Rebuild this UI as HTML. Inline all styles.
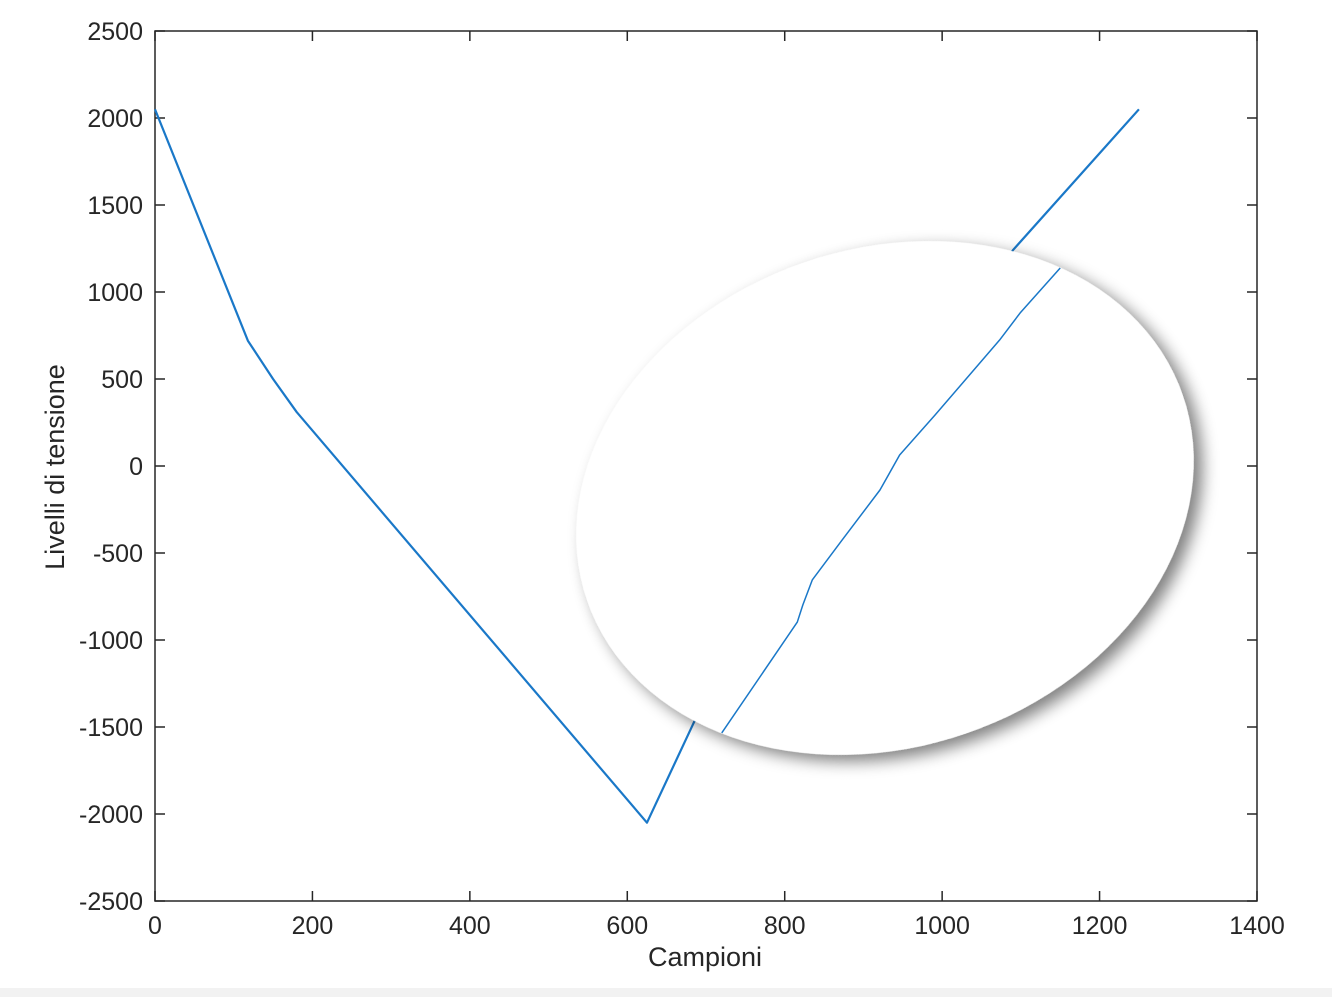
<!DOCTYPE html>
<html><head><meta charset="utf-8"><style>
html,body{margin:0;padding:0;background:#fff;}
svg{display:block;font-family:"Liberation Sans",Arial,sans-serif;}
</style></head><body>
<svg id="chart" width="1332" height="997" viewBox="0 0 1332 997" xmlns="http://www.w3.org/2000/svg">
<defs>
<filter id="sh" x="-20%" y="-20%" width="140%" height="140%">
<feGaussianBlur in="SourceAlpha" stdDeviation="8"/>
<feOffset dx="6" dy="9" result="b"/>
<feComponentTransfer><feFuncA type="linear" slope="0.5"/></feComponentTransfer>
<feMerge><feMergeNode/><feMergeNode in="SourceGraphic"/></feMerge>
</filter>
</defs>
<rect x="0" y="988" width="1332" height="9" fill="#f2f2f2"/>
<g id="plot"></g>
</svg>
<script>
const xTicks=[0,200,400,600,800,1000,1200,1400];
const yTicks=[2500,2000,1500,1000,500,0,-500,-1000,-1500,-2000,-2500];
const seriesX=[0,118,150,180,625,686,1090,1250];
const seriesY=[2050,720,500,310,-2050,-1460,1241,2050];
const zoomX=[720,816,823,835,873,921,946,991,1073,1099,1150];
const zoomY=[-1534,-897,-799,-655,-425,-138,63,293,724,879,1138];

const L=155,R=1257,T=31,B=901;
const sx=v=>L+(v-0)/(1400-0)*(R-L);
const sy=v=>B-(v+2500)/5000*(B-T);
const NS="http://www.w3.org/2000/svg";
const g=document.getElementById('plot');
function mk(t,a,p){const e=document.createElementNS(NS,t);for(const k in a)e.setAttribute(k,a[k]);(p||g).appendChild(e);return e;}

const frame=mk('rect',{x:L,y:T,width:R-L,height:B-T,fill:'#fff',stroke:'#262626','stroke-width':1.5});



xTicks.forEach(v=>{
  const x=sx(v);
  mk('line',{x1:x,x2:x,y1:B,y2:B-10,stroke:'#262626','stroke-width':1.5});
  mk('line',{x1:x,x2:x,y1:T,y2:T+10,stroke:'#262626','stroke-width':1.5});
  const t=mk('text',{x:x,y:B+33,'text-anchor':'middle','font-size':25,fill:'#262626'});
  t.textContent=v;
  
  
});
yTicks.forEach(v=>{
  const y=sy(v);
  mk('line',{x1:L,x2:L+10,y1:y,y2:y,stroke:'#262626','stroke-width':1.5});
  mk('line',{x1:R,x2:R-10,y1:y,y2:y,stroke:'#262626','stroke-width':1.5});
  const t=mk('text',{x:L-12,y:y+9,'text-anchor':'end','font-size':25,fill:'#262626'});
  t.textContent=v;
  
  
});

const line=mk('polyline',{points:seriesX.map((x,i)=>sx(x)+','+sy(seriesY[i])).join(' '),fill:'none',stroke:'#1a78c8','stroke-width':2.2,'stroke-linejoin':'round'});



const mag=mk('ellipse',{cx:885,cy:498,rx:315,ry:249,transform:'rotate(-19 885 498)',fill:'#fff',filter:'url(#sh)'});


const zl=mk('polyline',{points:zoomX.map((x,i)=>sx(x)+','+sy(zoomY[i])).join(' '),fill:'none',stroke:'#1a78c8','stroke-width':1.5,'stroke-linejoin':'round'});



const xl=mk('text',{x:705,y:966,'text-anchor':'middle','font-size':27,fill:'#262626'});
xl.textContent='Campioni';


const yl=mk('text',{x:0,y:0,'text-anchor':'middle','font-size':27,fill:'#262626',transform:'translate(64,467) rotate(-90)'});
yl.textContent='Livelli di tensione';


</script>
</body></html>
